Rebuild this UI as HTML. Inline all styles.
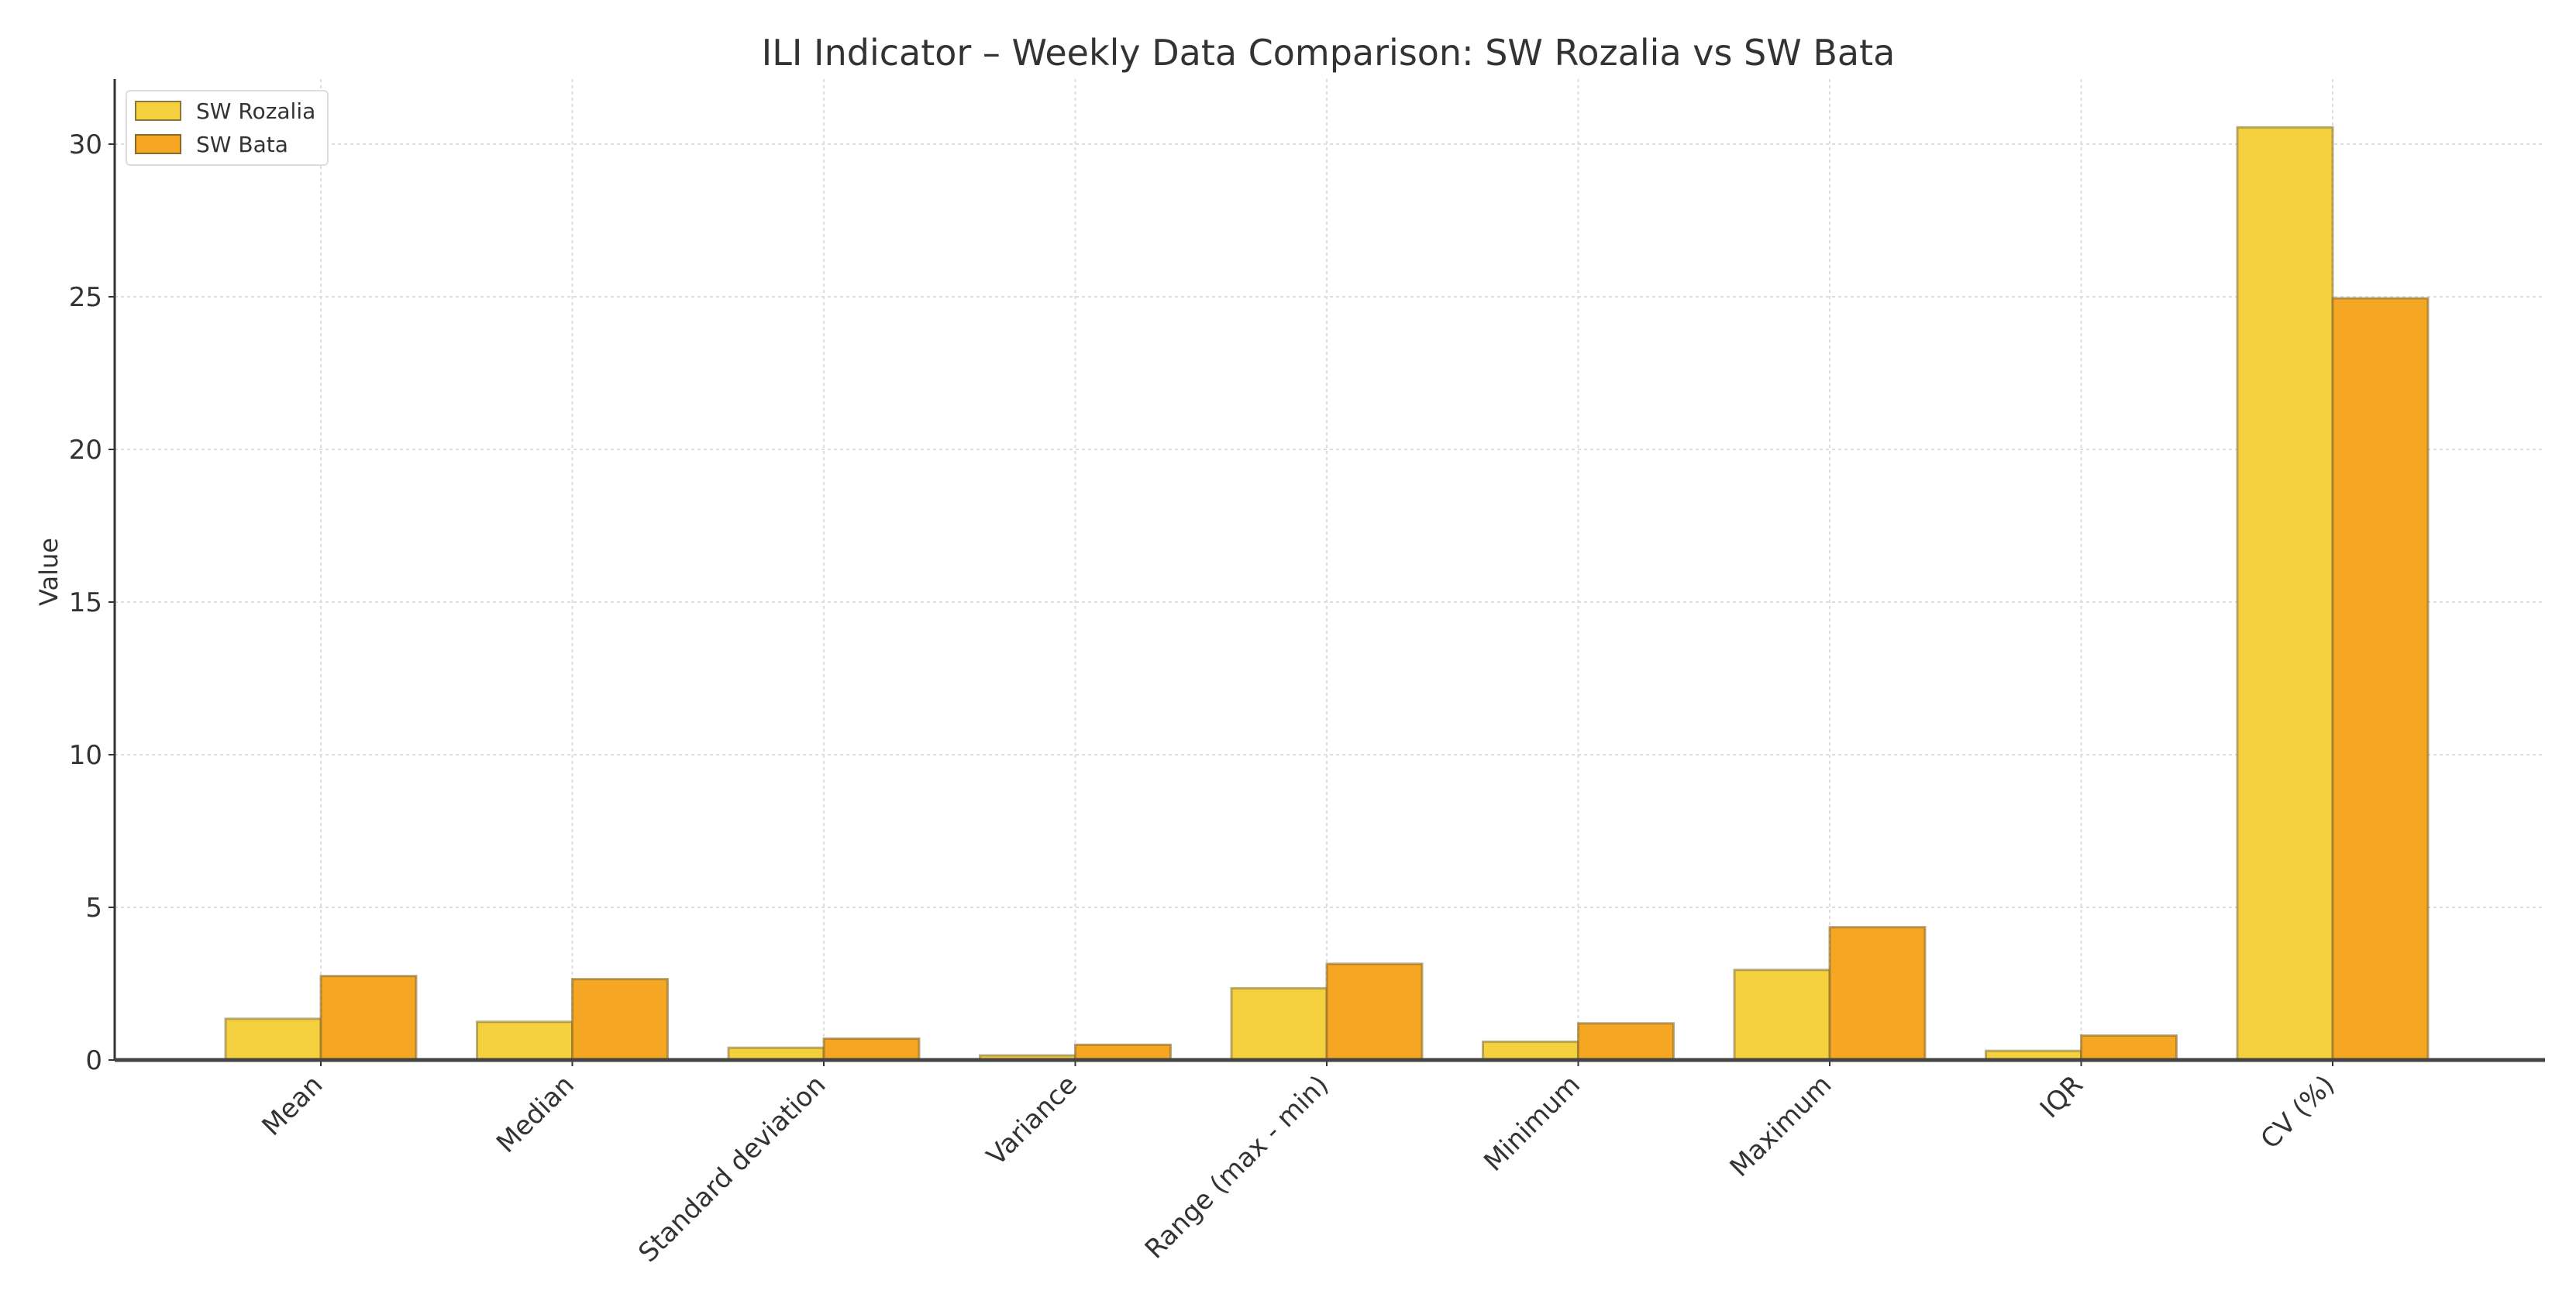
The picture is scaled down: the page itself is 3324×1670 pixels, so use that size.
<!DOCTYPE html>
<html><head><meta charset="utf-8"><style>
body{margin:0;background:#fff}
svg{display:block;font-family:"DejaVu Sans","Liberation Sans",sans-serif}
</style></head><body>
<svg id="chart" width="3324" height="1670" viewBox="0 0 3324 1670">
<rect width="3324" height="1670" fill="#fff"/>
<text x="1714" y="84" font-size="46" fill="#333" text-anchor="middle">ILI Indicator – Weekly Data Comparison: SW Rozalia vs SW Bata</text>
<text transform="translate(74,738) rotate(-90)" font-size="32" fill="#333" text-anchor="middle">Value</text>
<g id="grid"></g><g id="bars"></g><g id="axes"></g>
<g>
<rect x="163" y="117" width="260" height="96" rx="5" fill="#fff" stroke="#ddd" stroke-width="2"/>
<rect x="175" y="131" width="58" height="24" fill="#F4D03F" stroke="#8a7a3a" stroke-width="2"/>
<text x="253" y="153" font-size="28" fill="#333">SW Rozalia</text>
<rect x="175" y="174" width="58" height="24" fill="#F5A623" stroke="#8a6a2a" stroke-width="2"/>
<text x="253" y="196" font-size="28" fill="#333">SW Bata</text>
</g>
</svg>
<script>
const categories=["Mean","Median","Standard deviation","Variance","Range (max - min)","Minimum","Maximum","IQR","CV (%)"];
const rozalia=[1.35,1.25,0.4,0.15,2.35,0.6,2.95,0.3,30.55];
const bata=[2.75,2.65,0.7,0.5,3.15,1.2,4.35,0.8,24.95];
const yTicks=[0,5,10,15,20,25,30];
const NS="http://www.w3.org/2000/svg";
const L=148,R=3284,T=102,Y0=1368,PU=39.4,C0=414,STEP=324.5,BW=123;
const y=v=>Y0-v*PU, x=i=>C0+i*STEP;
function mk(tag,attrs,parent){const e=document.createElementNS(NS,tag);for(const k in attrs)e.setAttribute(k,attrs[k]);parent.appendChild(e);return e;}
const grid=document.getElementById('grid'),bars=document.getElementById('bars'),axes=document.getElementById('axes');
yTicks.forEach(t=>{
 if(t>0){const g=mk('line',{x1:L,x2:R,y1:y(t),y2:y(t),stroke:'#ddd','stroke-width':2,'stroke-dasharray':'4,4'},grid);
 
 }
 const tk=mk('line',{x1:L-8,x2:L,y1:y(t),y2:y(t),stroke:'#333','stroke-width':2},axes);
 
 
 const tx=mk('text',{x:L-16,y:y(t)+12,'font-size':34,fill:'#333','text-anchor':'end'},axes);
 tx.textContent=t;
 
 
});
categories.forEach((c,i)=>{
 const g=mk('line',{x1:x(i),x2:x(i),y1:T,y2:Y0,stroke:'#ddd','stroke-width':2,'stroke-dasharray':'4,4'},grid);
 
 
 const b1=mk('rect',{x:x(i)-BW,y:y(rozalia[i]),width:BW,height:rozalia[i]*PU,fill:'#F4D03F',stroke:'#8a7a3a','stroke-opacity':0.6,'stroke-width':3},bars);
 
 
 const b2=mk('rect',{x:x(i),y:y(bata[i]),width:BW,height:bata[i]*PU,fill:'#F5A623',stroke:'#8a6a2a','stroke-opacity':0.6,'stroke-width':3},bars);
 
 
 const tk=mk('line',{x1:x(i),x2:x(i),y1:Y0,y2:Y0+8,stroke:'#333','stroke-width':2},axes);
 
 
 const tx=mk('text',{transform:`translate(${x(i)+4},${Y0+34}) rotate(-45)`,'font-size':34,fill:'#333','text-anchor':'end'},axes);
 tx.textContent=c;
 
 
});
const ax=mk('line',{x1:L,x2:L,y1:T,y2:Y0,stroke:'#333','stroke-width':3},axes);


const bx=mk('line',{x1:L,x2:R,y1:Y0,y2:Y0,stroke:'#444','stroke-width':5},axes);


</script>
</body></html>
